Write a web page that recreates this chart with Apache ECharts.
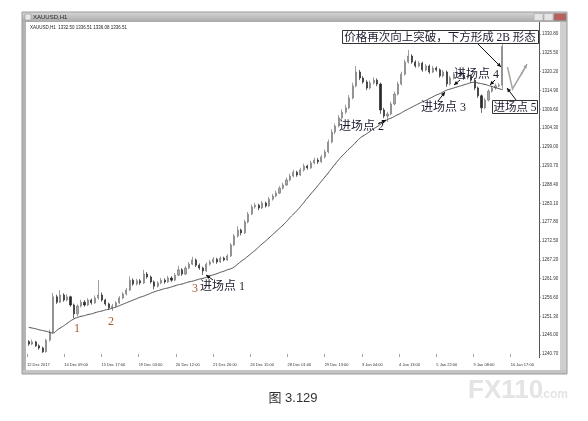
<!DOCTYPE html>
<html><head><meta charset="utf-8">
<script src="https://cdn.jsdelivr.net/npm/echarts@6/dist/echarts.min.js"></script>
<style>html,body{margin:0;padding:0;background:#fff}#c{width:588px;height:421px}</style>
</head><body><div id="c"></div>
<script>
// Price axis tick labels (top to bottom)
const yTicks = ['1330.80','1325.50','1320.20','1314.90','1309.60','1304.30','1299.00','1293.70','1288.40','1283.10','1277.80','1272.50','1267.20','1261.90','1256.60','1251.30','1246.00','1240.70'];
// Time axis tick labels (left to right)
const xTicks = ['12 Dec 2017','14 Dec 09:00','15 Dec 17:00','19 Dec 03:00','20 Dec 12:00','21 Dec 20:00','26 Dec 15:00','28 Dec 01:00','29 Dec 13:00','3 Jan 04:00','4 Jan 13:00','5 Jan 22:00','9 Jan 08:00','10 Jan 17:00'];
// Candles: [open, close, low, high]
const candles = [
[1244.2,1243.5,1243.0,1244.6],[1243.5,1244.1,1243.2,1244.8],[1244.1,1243.0,1242.7,1244.4],[1243.0,1242.4,1241.9,1243.4],
[1242.4,1241.3,1241.0,1242.8],[1241.3,1244.6,1241.1,1245.0],[1244.6,1246.9,1244.2,1247.6],[1246.9,1256.8,1246.5,1257.9],
[1256.8,1255.3,1254.8,1257.4],[1255.3,1257.3,1255.0,1258.7],[1257.3,1255.9,1255.4,1257.8],[1255.9,1256.8,1255.5,1257.5],
[1256.8,1254.5,1254.0,1257.1],[1254.5,1252.0,1250.8,1254.9],[1252.0,1254.2,1251.3,1254.7],[1254.2,1255.3,1253.8,1256.0],
[1255.3,1254.5,1254.0,1255.9],[1254.5,1255.9,1254.2,1256.4],[1255.9,1255.1,1254.6,1256.3],[1255.1,1256.5,1254.8,1257.2],
[1256.5,1257.3,1256.0,1261.5],[1257.3,1255.9,1255.4,1258.0],[1255.9,1254.8,1254.3,1256.3],[1254.8,1253.7,1253.2,1255.2],
[1253.7,1254.2,1252.8,1254.8],[1254.2,1255.1,1253.9,1255.6],[1255.1,1256.5,1254.8,1257.0],[1256.5,1257.6,1256.1,1258.1],
[1257.6,1258.7,1257.2,1259.3],[1258.7,1261.5,1258.4,1262.6],[1261.5,1260.4,1259.9,1262.0],[1260.4,1261.3,1260.0,1261.9],
[1261.3,1260.7,1260.1,1261.8],[1260.7,1263.2,1260.4,1264.4],[1263.2,1262.4,1261.9,1263.8],[1262.4,1261.0,1260.5,1262.8],
[1261.0,1259.8,1258.9,1261.4],[1259.8,1260.7,1259.4,1261.2],[1260.7,1261.5,1260.3,1262.1],[1261.5,1261.0,1260.5,1262.0],
[1261.0,1262.1,1260.7,1262.7],[1262.1,1261.5,1261.0,1262.6],[1261.5,1262.9,1261.2,1263.5],[1262.9,1264.4,1262.6,1265.5],
[1264.4,1263.2,1262.7,1264.9],[1263.2,1264.9,1262.9,1265.5],[1264.9,1266.0,1264.6,1266.6],[1266.0,1267.2,1265.7,1268.1],
[1267.2,1265.7,1265.2,1267.6],[1265.7,1264.9,1264.4,1266.2],[1264.9,1264.1,1263.0,1265.3],[1264.1,1266.0,1263.8,1266.5],
[1266.0,1266.6,1265.6,1267.2],[1266.6,1267.4,1266.2,1268.0],[1267.4,1266.6,1266.1,1267.8],[1266.6,1267.7,1266.3,1268.2],
[1267.7,1267.2,1266.8,1268.1],[1267.2,1268.3,1266.9,1268.8],[1268.3,1271.4,1268.0,1271.9],[1271.4,1273.9,1271.1,1274.5],
[1273.9,1275.6,1273.5,1276.7],[1275.6,1274.8,1274.1,1276.0],[1274.8,1277.9,1274.5,1278.5],[1277.9,1280.1,1277.5,1280.7],
[1280.1,1282.1,1279.8,1282.8],[1282.1,1282.6,1281.6,1283.3],[1282.6,1281.8,1281.2,1283.0],[1281.8,1283.2,1281.5,1283.8],
[1283.2,1282.4,1281.9,1283.6],[1282.4,1284.3,1282.1,1284.9],[1284.3,1285.2,1283.9,1285.8],[1285.2,1286.0,1284.8,1286.7],
[1286.0,1287.4,1285.7,1288.0],[1287.4,1288.3,1287.0,1288.9],[1288.3,1289.7,1288.0,1290.4],[1289.7,1290.8,1289.3,1291.5],
[1290.8,1291.9,1290.4,1292.6],[1291.9,1291.1,1290.6,1292.3],[1291.1,1292.5,1290.8,1293.1],[1292.5,1293.6,1292.1,1294.3],
[1293.6,1293.1,1292.6,1294.0],[1293.1,1294.5,1292.8,1295.1],[1294.5,1295.3,1294.1,1296.0],[1295.3,1294.8,1294.2,1295.9],
[1294.8,1296.2,1294.5,1296.8],[1296.2,1297.6,1295.8,1298.3],[1297.6,1300.4,1297.2,1301.1],[1300.4,1303.2,1300.0,1304.0],
[1303.2,1304.9,1302.6,1305.6],[1304.9,1307.2,1304.5,1308.0],[1307.2,1308.8,1306.7,1309.6],[1308.8,1310.0,1308.3,1310.9],
[1310.0,1312.8,1309.6,1313.6],[1312.8,1316.2,1312.4,1317.1],[1316.2,1320.1,1315.8,1321.8],[1320.1,1318.4,1317.8,1320.7],
[1318.4,1317.3,1316.8,1318.9],[1317.3,1315.6,1315.0,1317.8],[1315.6,1317.0,1315.2,1317.7],[1317.0,1317.8,1316.6,1318.6],
[1317.8,1316.7,1316.1,1318.3],[1316.7,1309.4,1308.3,1317.1],[1309.4,1307.7,1307.1,1310.0],[1307.7,1308.3,1306.0,1308.9],
[1308.3,1311.1,1307.9,1311.8],[1311.1,1313.9,1310.7,1314.6],[1313.9,1316.7,1313.5,1317.4],[1316.7,1319.5,1316.3,1320.2],
[1319.5,1322.9,1319.1,1323.6],[1322.9,1324.6,1322.5,1326.3],[1324.6,1322.9,1322.4,1325.1],[1322.9,1321.8,1321.3,1323.4],
[1321.8,1322.6,1321.4,1323.2],[1322.6,1320.7,1320.2,1323.0],[1320.7,1321.8,1320.3,1322.4],[1321.8,1320.1,1319.6,1322.2],
[1320.1,1321.2,1319.8,1321.8],[1321.2,1320.7,1320.2,1321.7],[1320.7,1319.0,1318.5,1321.1],[1319.0,1320.1,1318.6,1320.7],
[1320.1,1316.7,1315.9,1320.5],[1316.7,1318.4,1316.3,1319.0],[1318.4,1319.5,1318.0,1320.1],[1319.5,1320.1,1319.1,1320.8],
[1320.1,1319.2,1318.7,1320.5],[1319.2,1318.4,1317.9,1319.6],[1318.4,1319.0,1318.0,1319.6],[1319.0,1317.8,1317.3,1319.4],
[1317.8,1315.6,1315.0,1318.2],[1315.6,1313.4,1312.8,1316.0],[1313.4,1310.0,1308.6,1313.8],[1310.0,1312.2,1309.6,1312.8],
[1312.2,1314.7,1311.8,1315.3],[1314.7,1315.6,1314.3,1316.2],[1315.6,1316.2,1315.1,1316.8],[1316.2,1316.4,1315.8,1317.0],
[1316.4,1327.3,1315.2,1328.1]
];
// Moving average line
const maValues = [
1248.2,1248.0,1247.8,1247.5,1247.3,1247.1,1246.8,1246.6,1247.3,1248.0,1248.6,1249.3,1250.0,1250.6,1251.0,1251.3,
1251.5,1251.8,1252.0,1252.3,1252.6,1252.8,1253.1,1253.3,1253.6,1253.9,1254.3,1254.7,1255.1,1255.5,1255.9,1256.3,
1256.7,1257.0,1257.4,1257.8,1258.2,1258.5,1258.8,1259.1,1259.3,1259.6,1259.9,1260.2,1260.4,1260.7,1261.0,1261.2,
1261.5,1261.8,1262.0,1262.3,1262.7,1263.0,1263.3,1263.7,1264.0,1264.4,1264.7,1265.2,1266.0,1266.8,1267.5,1268.3,
1269.1,1269.9,1270.8,1271.7,1272.5,1273.4,1274.3,1275.2,1276.1,1277.0,1278.0,1279.1,1280.1,1281.1,1282.2,1283.4,
1284.6,1285.8,1286.9,1288.1,1289.3,1290.5,1291.7,1293.0,1294.2,1295.4,1296.5,1297.5,1298.5,1299.4,1300.4,1301.4,
1302.1,1302.7,1303.4,1304.1,1304.7,1305.4,1306.0,1306.7,1307.1,1307.6,1308.1,1308.6,1309.2,1309.7,1310.2,1310.7,
1311.2,1311.7,1312.1,1312.6,1313.1,1313.6,1314.0,1314.5,1315.0,1315.3,1315.6,1315.9,1316.2,1316.5,1316.8,1317.1,
1317.2,1317.0,1316.8,1316.6,1316.3,1316.0,1315.7,1315.4,1315.1
];

const serif = "'Liberation Serif','Noto Sans CJK SC',serif";
const navy = '#1c1c30', brown = '#a8572a';

function arrow(x1, y1, x2, y2, color, w) {
  const a = Math.atan2(y2 - y1, x2 - x1), L = 4.5, s = 0.45;
  return [
    {type:'line', z:20, shape:{x1, y1, x2, y2}, style:{stroke:color, lineWidth:w}},
    {type:'polygon', z:20, shape:{points:[[x2,y2],[x2-L*Math.cos(a-s), y2-L*Math.sin(a-s)],[x2-L*Math.cos(a+s), y2-L*Math.sin(a+s)]]}, style:{fill:color}}
  ];
}
function txt(x, y, t, size, color, align, fam, weight) {
  return {type:'text', z:21, style:{x, y, text:t, fill:color, font:(weight||'normal')+' '+size+'px '+(fam||serif),
    align:align||'left', verticalAlign:'middle', textAlign:align||'left', textVerticalAlign:'middle'}};
}

const graphics = [
  {type:'rect', z:-5, shape:{x:22,y:12,width:545,height:10}, style:{fill:new echarts.graphic.LinearGradient(0,0,0,1,[{offset:0,color:'#d6d6d6'},{offset:1,color:'#aaaaaa'}])}},
  {type:'rect', z:-5, shape:{x:22,y:22,width:4,height:352}, style:{fill:'#b4b4b4'}},
  {type:'rect', z:-5, shape:{x:560,y:22,width:7,height:352}, style:{fill:'#cfcfcf'}},
  {type:'rect', z:-5, shape:{x:22,y:370,width:545,height:4}, style:{fill:'#c4c4c4'}},
  {type:'rect', z:-4, shape:{x:22,y:12,width:545,height:362}, style:{fill:'none', stroke:'#9a9a9a', lineWidth:1}},
  {type:'rect', z:-4, shape:{x:534,y:13.5,width:9,height:7}, style:{fill:'#e4e4e4', stroke:'#999', lineWidth:0.5}},
  {type:'rect', z:-4, shape:{x:544,y:13.5,width:9,height:7}, style:{fill:'#e4e4e4', stroke:'#999', lineWidth:0.5}},
  {type:'rect', z:-4, shape:{x:554,y:13.5,width:12,height:7}, style:{fill:'#b86060', stroke:'#888', lineWidth:0.5}},
  {type:'rect', z:-4, shape:{x:25,y:14,width:6,height:6}, style:{fill:'#e8e8e8', stroke:'#888', lineWidth:0.5}},
  txt(33, 17.5, 'XAUUSD,H1', 6, '#222', 'left', 'Liberation Sans'),
  txt(30, 28, 'XAUUSD,H1  1332.50 1336.51 1336.08 1336.51', 4.5, '#222', 'left', 'Liberation Sans'),
  {type:'line', z:-3, shape:{x1:539.5,y1:22,x2:539.5,y2:358}, style:{stroke:'#555', lineWidth:1}},
  txt(77, 329, '1', 12, brown, 'center'),
  txt(111, 322, '2', 12, brown, 'center'),
  txt(195, 289, '3', 12, brown, 'center'),
  txt(200, 287, '进场点 1', 12, navy, 'left'),
  txt(339, 127, '进场点 2', 12, navy, 'left'),
  txt(421, 108, '进场点 3', 12, navy, 'left'),
  txt(454, 75, '进场点 4', 12, navy, 'left'),
  {type:'rect', z:19, shape:{x:342.5,y:30.5,width:196,height:13}, style:{fill:'#fff', stroke:'#333', lineWidth:1}},
  txt(440, 37.5, '价格再次向上突破，下方形成 2B 形态', 11.5, navy, 'center'),
  {type:'rect', z:19, shape:{x:492.5,y:100.5,width:45,height:13}, style:{fill:'#fff', stroke:'#333', lineWidth:1}},
  txt(515, 107.5, '进场点 5', 11.5, navy, 'center'),
  txt(293, 398, '图 3.129', 13, '#333', 'center', "'Liberation Sans','Noto Sans CJK SC',sans-serif"),
  txt(468, 391, 'FX110', 26, '#e4e4e4', 'left', "'Liberation Sans',sans-serif", 'bold'),
  txt(540, 395, '.com', 12, '#e4e4e4', 'left', "'Liberation Sans',sans-serif", 'bold'),
  {type:'polyline', z:20, shape:{points:[[507.5,67],[512.5,89],[526,66]]}, style:{stroke:'#a5a5a5', lineWidth:1.5, fill:'none'}}
].concat(
  arrow(213, 280, 206, 275, '#111', 1),
  arrow(378, 124, 386, 120, '#111', 1),
  arrow(438, 101, 445, 92, '#111', 1),
  arrow(460, 80, 454, 85, '#111', 1),
  arrow(495, 80, 490, 85, '#111', 1),
  arrow(478, 44, 501, 67, '#111', 1),
  arrow(516, 100, 507, 88, '#111', 1),
  arrow(521, 75, 527, 64, '#a5a5a5', 1.5)
);

const chart = echarts.init(document.getElementById('c'), null, {renderer:'canvas'});
chart.setOption({
  backgroundColor:'#ffffff',
  animation:false,
  grid:[{left:27, right:49, top:34, bottom:67}],
  xAxis:[
    {type:'category', gridIndex:0, max:146, boundaryGap:true, show:false},
    {type:'value', gridIndex:0, min:0, max:13.76, interval:1, position:'bottom',
     axisLine:{show:false}, splitLine:{show:false},
     axisTick:{show:true, length:3, lineStyle:{color:'#666', width:0.6}},
     axisLabel:{show:true, align:'left', margin:9, fontSize:4, color:'#333', fontFamily:'Liberation Sans',
       formatter:v => xTicks[v] || ''}}
  ],
  yAxis:[
    {type:'value', gridIndex:0, min:1240.7, max:1330.8, show:false, scale:true},
    {type:'value', gridIndex:0, min:0, max:17, interval:1, position:'right',
     axisLine:{show:false}, splitLine:{show:false},
     axisTick:{show:true, length:2, lineStyle:{color:'#666', width:0.6}},
     axisLabel:{show:true, margin:3, fontSize:4.5, color:'#333', fontFamily:'Liberation Sans',
       formatter:v => yTicks[17 - v] || ''}}
  ],
  series:[
    {type:'candlestick', xAxisIndex:0, yAxisIndex:0, data:candles, barWidth:1.6,
     itemStyle:{color:'#a8a8a8', color0:'#2a2a2a', borderColor:'#777777', borderColor0:'#2a2a2a', borderWidth:0.7}},
    {type:'line', xAxisIndex:0, yAxisIndex:0, data:maValues, symbol:'none', smooth:true,
     lineStyle:{color:'#4a4a4a', width:1}}
  ],
  graphic:{elements:graphics}
});
</script></body></html>
